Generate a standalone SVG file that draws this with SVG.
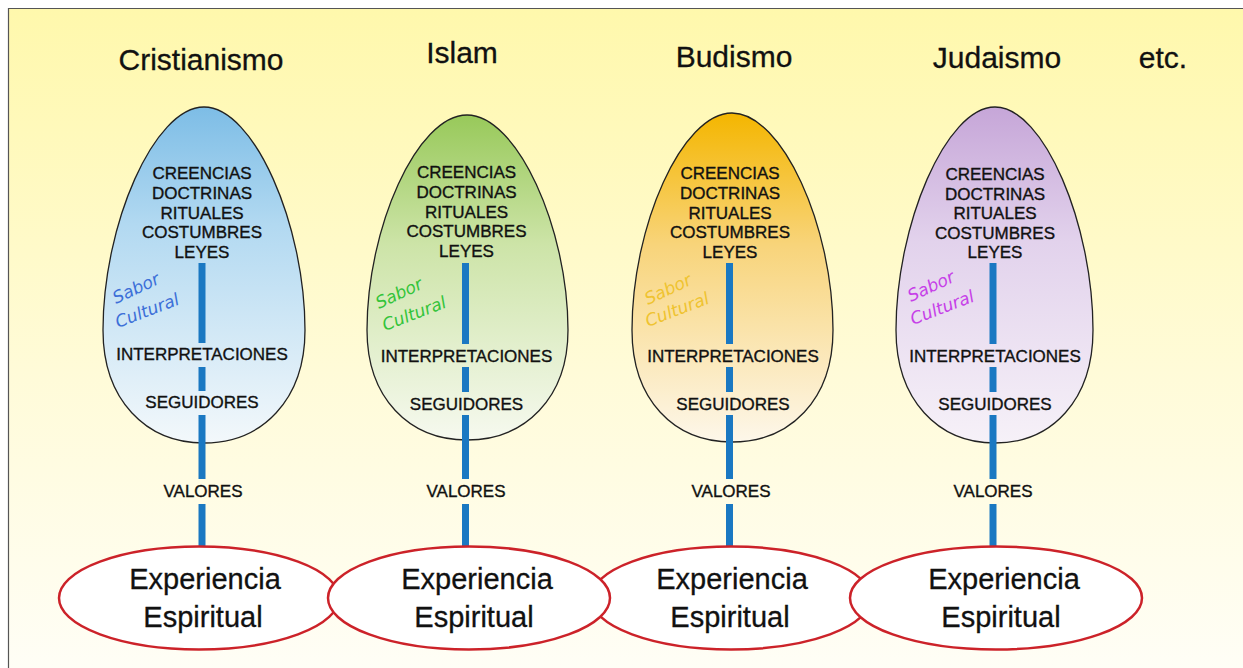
<svg xmlns="http://www.w3.org/2000/svg" width="1243" height="668" viewBox="0 0 1243 668">
<defs>
<linearGradient id="bg" x1="0" y1="0" x2="0" y2="1">
<stop offset="0" stop-color="#fff8ac"/>
<stop offset="0.55" stop-color="#fffbd8"/>
<stop offset="1" stop-color="#fffef6"/>
</linearGradient>
<linearGradient id="gBlue" x1="0" y1="0" x2="0" y2="1">
<stop offset="0" stop-color="#7dbde6"/>
<stop offset="0.35" stop-color="#b2d9f1"/>
<stop offset="1" stop-color="#f3f8fb"/>
</linearGradient>
<linearGradient id="gGreen" x1="0" y1="0" x2="0" y2="1">
<stop offset="0" stop-color="#98c95a"/>
<stop offset="0.4" stop-color="#cde4a8"/>
<stop offset="1" stop-color="#f6f9ef"/>
</linearGradient>
<linearGradient id="gGold" x1="0" y1="0" x2="0" y2="1">
<stop offset="0" stop-color="#f4b600"/>
<stop offset="0.4" stop-color="#f8d47a"/>
<stop offset="1" stop-color="#fdf7ea"/>
</linearGradient>
<linearGradient id="gPurple" x1="0" y1="0" x2="0" y2="1">
<stop offset="0" stop-color="#c6a6d8"/>
<stop offset="0.4" stop-color="#e2d2ec"/>
<stop offset="1" stop-color="#f6f1f8"/>
</linearGradient>
<style>
.title{font-family:"Liberation Sans",Arial,sans-serif;font-size:30px;fill:#111;text-anchor:middle;stroke:#111;stroke-width:0.3}
.lbl{font-family:"Liberation Sans",Arial,sans-serif;font-size:17px;fill:#111;text-anchor:middle;stroke:#111;stroke-width:0.35}
.egg{stroke:#222;stroke-width:1.3}
.exp{fill:#fff;stroke:#cc2229;stroke-width:2.5}
.expt{font-family:"Liberation Sans",Arial,sans-serif;font-size:29px;fill:#111;text-anchor:middle;stroke:#111;stroke-width:0.3}
.sabor{font-family:"DejaVu Sans",sans-serif;font-style:oblique;font-size:17px}
.bar{stroke:#1a78c2;stroke-width:7}
</style>
</defs>
<rect x="0" y="0" width="1243" height="668" fill="#fff"/>
<rect x="8" y="8" width="1235" height="660" fill="url(#bg)"/>
<path d="M8.5 668 V8.5 H1243" fill="none" stroke="#555" stroke-width="1.2"/>

<g id="title-cristianismo"><text class="title" x="201" y="70">Cristianismo</text></g>
<g id="title-islam"><text class="title" x="462" y="63">Islam</text></g>
<g id="title-budismo"><text class="title" x="734" y="67">Budismo</text></g>
<g id="title-judaismo"><text class="title" x="997" y="68">Judaismo</text></g>
<g id="title-etc"><text class="title" x="1163" y="68">etc.</text></g>

<g id="egg-cristianismo">
<path class="egg" fill="url(#gBlue)" d="M204 107 C254 107 305 225 305 330 C305 400 262 443 204 443 C146 443 103 400 103 330 C103 225 154 107 204 107 Z"/>
</g>
<g id="egg-islam">
<path class="egg" fill="url(#gGreen)" d="M467 115 C517 115 568 228 568 330 C568 398 525 440 467 440 C409 440 367 398 367 330 C367 228 417 115 467 115 Z"/>
</g>
<g id="egg-budismo">
<path class="egg" fill="url(#gGold)" d="M732 113 C782 113 833 226 833 330 C833 400 790 442 732 442 C674 442 632 400 632 330 C632 226 682 113 732 113 Z"/>
</g>
<g id="egg-judaismo">
<path class="egg" fill="url(#gPurple)" d="M995 107 C1044 107 1093 225 1093 330 C1093 400 1052 443 995 443 C938 443 896 400 896 330 C896 225 946 107 995 107 Z"/>
</g>

<g id="connectors">
<line class="bar" x1="202" y1="263" x2="202" y2="343"/>
<line class="bar" x1="202" y1="367" x2="202" y2="391"/>
<line class="bar" x1="202" y1="415" x2="202" y2="479"/>
<line class="bar" x1="202" y1="504" x2="202" y2="547"/>
<line class="bar" x1="465.5" y1="263" x2="465.5" y2="344"/>
<line class="bar" x1="465.5" y1="367" x2="465.5" y2="392"/>
<line class="bar" x1="465.5" y1="415" x2="465.5" y2="479"/>
<line class="bar" x1="465.5" y1="504" x2="465.5" y2="547"/>
<line class="bar" x1="729.5" y1="263" x2="729.5" y2="344"/>
<line class="bar" x1="729.5" y1="367" x2="729.5" y2="392"/>
<line class="bar" x1="729.5" y1="415" x2="729.5" y2="479"/>
<line class="bar" x1="729.5" y1="504" x2="729.5" y2="547"/>
<line class="bar" x1="993" y1="263" x2="993" y2="344"/>
<line class="bar" x1="993" y1="367" x2="993" y2="392"/>
<line class="bar" x1="993" y1="415" x2="993" y2="479"/>
<line class="bar" x1="993" y1="504" x2="993" y2="547"/>
</g>

<g id="labels-cristianismo">
<text class="lbl" x="202" y="179">CREENCIAS</text>
<text class="lbl" x="202" y="199">DOCTRINAS</text>
<text class="lbl" x="202" y="219">RITUALES</text>
<text class="lbl" x="202" y="238">COSTUMBRES</text>
<text class="lbl" x="202" y="258">LEYES</text>
<text class="lbl" x="202" y="360">INTERPRETACIONES</text>
<text class="lbl" x="202" y="408">SEGUIDORES</text>
<text class="lbl" x="203" y="497">VALORES</text>
<text class="sabor" fill="#3c6fd8" transform="translate(116 304) rotate(-25)">Sabor</text>
<text class="sabor" fill="#3c6fd8" transform="translate(118 328) rotate(-21)">Cultural</text>
</g>
<g id="labels-islam">
<text class="lbl" x="466.5" y="178">CREENCIAS</text>
<text class="lbl" x="466.5" y="198">DOCTRINAS</text>
<text class="lbl" x="466.5" y="218">RITUALES</text>
<text class="lbl" x="466.5" y="237">COSTUMBRES</text>
<text class="lbl" x="466.5" y="257">LEYES</text>
<text class="lbl" x="466.5" y="362">INTERPRETACIONES</text>
<text class="lbl" x="466.5" y="410">SEGUIDORES</text>
<text class="lbl" x="466" y="497">VALORES</text>
<text class="sabor" fill="#33c43a" transform="translate(379 309) rotate(-25)">Sabor</text>
<text class="sabor" fill="#33c43a" transform="translate(385 331) rotate(-21)">Cultural</text>
</g>
<g id="labels-budismo">
<text class="lbl" x="730" y="179">CREENCIAS</text>
<text class="lbl" x="730" y="199">DOCTRINAS</text>
<text class="lbl" x="730" y="219">RITUALES</text>
<text class="lbl" x="730" y="238">COSTUMBRES</text>
<text class="lbl" x="730" y="258">LEYES</text>
<text class="lbl" x="733" y="362">INTERPRETACIONES</text>
<text class="lbl" x="733" y="410">SEGUIDORES</text>
<text class="lbl" x="731" y="497">VALORES</text>
<text class="sabor" fill="#efc330" transform="translate(648 305) rotate(-25)">Sabor</text>
<text class="sabor" fill="#efc330" transform="translate(648 327) rotate(-21)">Cultural</text>
</g>
<g id="labels-judaismo">
<text class="lbl" x="995" y="180">CREENCIAS</text>
<text class="lbl" x="995" y="200">DOCTRINAS</text>
<text class="lbl" x="995" y="219">RITUALES</text>
<text class="lbl" x="995" y="239">COSTUMBRES</text>
<text class="lbl" x="995" y="258">LEYES</text>
<text class="lbl" x="995" y="362">INTERPRETACIONES</text>
<text class="lbl" x="995" y="410">SEGUIDORES</text>
<text class="lbl" x="993" y="497">VALORES</text>
<text class="sabor" fill="#c640e8" transform="translate(911 302) rotate(-25)">Sabor</text>
<text class="sabor" fill="#c640e8" transform="translate(913 325) rotate(-21)">Cultural</text>
</g>

<g id="exp-budismo">
<ellipse class="exp" cx="731" cy="598" rx="140" ry="51.5"/>
<text class="expt" x="732" y="589">Experiencia</text>
<text class="expt" x="730" y="627">Espiritual</text>
</g>
<g id="exp-cristianismo">
<ellipse class="exp" cx="199" cy="598" rx="140" ry="51.5"/>
<text class="expt" x="205" y="589">Experiencia</text>
<text class="expt" x="203" y="627">Espiritual</text>
</g>
<g id="exp-islam">
<ellipse class="exp" cx="469" cy="598" rx="141" ry="51.5"/>
<text class="expt" x="477" y="589">Experiencia</text>
<text class="expt" x="474" y="627">Espiritual</text>
</g>
<g id="exp-judaismo">
<ellipse class="exp" cx="996" cy="598" rx="146" ry="51.5"/>
<text class="expt" x="1004" y="589">Experiencia</text>
<text class="expt" x="1001" y="627">Espiritual</text>
</g>
</svg>
